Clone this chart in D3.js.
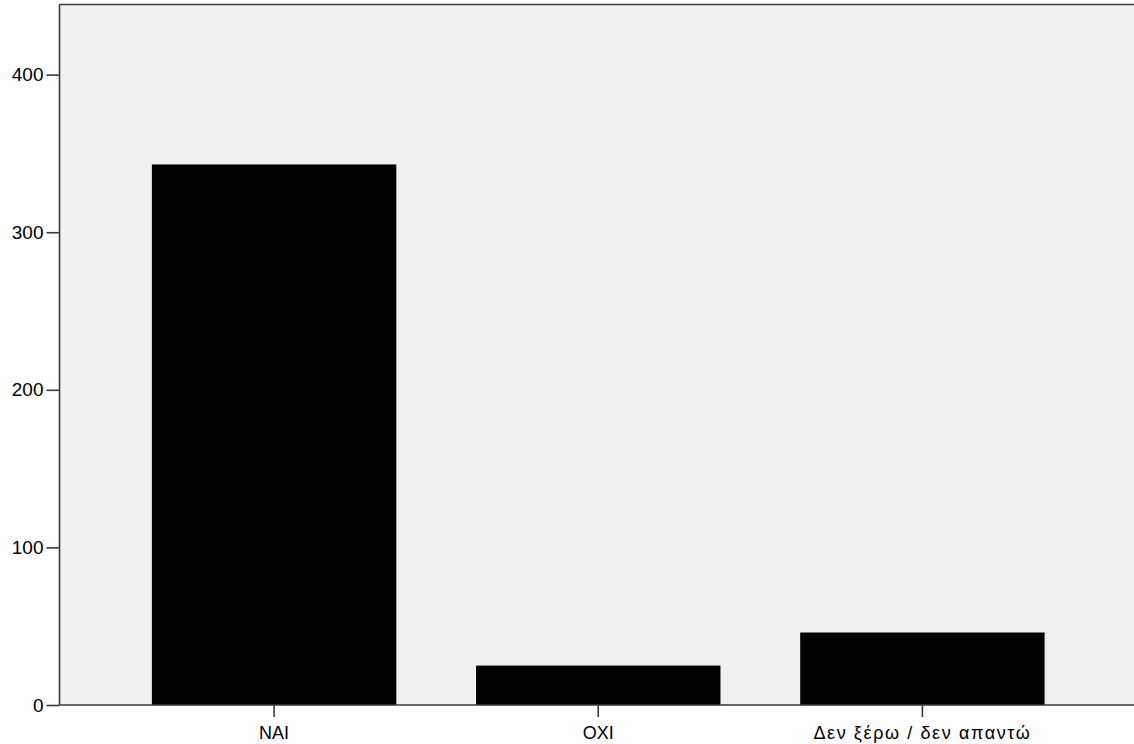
<!DOCTYPE html>
<html>
<head>
<meta charset="utf-8">
<script src="https://cdn.jsdelivr.net/npm/d3@7"></script>
<style>
html,body{margin:0;padding:0;background:#fff;}
svg{display:block;}
.axis text{font-family:"Liberation Sans",Arial,sans-serif;font-size:18px;fill:#000;}
</style>
</head>
<body>
<svg id="chart" width="1134" height="744"></svg>
<script>
const categories = ["NAI", "OXI", "Δεν ξέρω / δεν απαντώ"];
const counts = [343, 25, 46];
const yTicks = [0, 100, 200, 300, 400];

(function () {
const W = 1134, H = 744;
const mLeft = 59.5, mTop = 4.5, mBottom = 705;
const svg = d3.select("#chart");

const x = d3.scaleBand().domain(categories).range([mLeft, 1137]).paddingInner(0.246).paddingOuter(0.285);
const y = d3.scaleLinear().domain([0, 444.5]).range([mBottom, mTop]);

// plot background
svg.append("rect").attr("x", mLeft).attr("y", mTop).attr("width", W - mLeft).attr("height", mBottom - mTop).attr("fill", "#f0f0f0");

// bars
svg.append("g").selectAll("rect").data(categories).join("rect")
  .attr("x", d => x(d))
  .attr("width", x.bandwidth())
  .attr("y", (d, i) => y(counts[i]))
  .attr("height", (d, i) => y(0) - y(counts[i]))
  .attr("fill", "#000");

// frame: top, left, bottom
svg.append("line").attr("x1", mLeft).attr("x2", W).attr("y1", mTop).attr("y2", mTop).attr("stroke", "#3a3a3a").attr("stroke-width", 1.6);
svg.append("line").attr("x1", mLeft).attr("x2", mLeft).attr("y1", mTop).attr("y2", mBottom).attr("stroke", "#3a3a3a").attr("stroke-width", 1.6);
svg.append("line").attr("x1", mLeft).attr("x2", W).attr("y1", mBottom).attr("y2", mBottom).attr("stroke", "#3a3a3a").attr("stroke-width", 1.6);

// y axis
const gy = svg.append("g").attr("class", "axis").attr("transform", `translate(${mLeft},0)`)
  .call(d3.axisLeft(y).tickValues(yTicks).tickSize(13).tickPadding(3).tickFormat(d3.format("d")));
gy.select(".domain").remove();
gy.selectAll(".tick line").attr("stroke", "#3a3a3a").attr("stroke-width", 1.6);
gy.selectAll(".tick text").style("font-size", "19px");

// x axis
const gx = svg.append("g").attr("class", "axis").attr("transform", `translate(0,${mBottom})`)
  .call(d3.axisBottom(x).tickSize(12).tickPadding(9));
gx.select(".domain").remove();
gx.selectAll(".tick line").attr("stroke", "#3a3a3a").attr("stroke-width", 1.6);
gx.selectAll(".tick text").filter(d => /[α-ωΑ-Ω]/.test(d)).style("letter-spacing", "1.6px");
})();
</script>
</body>
</html>
